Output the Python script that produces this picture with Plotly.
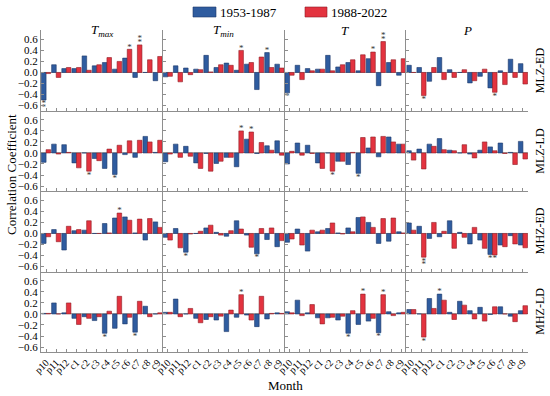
import plotly.graph_objects as go
from plotly.subplots import make_subplots

MONTHS = ["p10", "p11", "p12", "c1", "c2", "c3", "c4", "c5", "c6", "c7", "c8", "c9"]
ROWS = ["MLZ-ED", "MLZ-LD", "MHZ-ED", "MHZ-LD"]
COLS = ["Tmax", "Tmin", "T", "P"]
COL_TITLES = ["<i>T</i><sub><i>max</i></sub>", "<i>T</i><sub><i>min</i></sub>", "<i>T</i>", "<i>P</i>"]
SERIES = ["1953-1987", "1988-2022"]
Y_TICKS = [-0.6, -0.4, -0.2, 0.0, 0.2, 0.4, 0.6]
Y_TICK_TEXT = ["\u22120.6", "\u22120.4", "\u22120.2", "0.0", "0.2", "0.4", "0.6"]

# ---- MLZ-ED ----
MLZ_ED_Tmax_1 = [-0.50, 0.14, 0.07, 0.07, 0.30, 0.12, 0.18, 0.06, 0.26, -0.09, 0.00, -0.15]
MLZ_ED_Tmax_2 = [-0.02, -0.09, 0.09, 0.09, 0.04, 0.14, 0.27, 0.20, 0.42, 0.50, 0.23, 0.29]
MLZ_ED_Tmin_1 = [-0.08, 0.12, 0.08, 0.06, 0.31, 0.09, 0.17, 0.04, 0.15, -0.31, 0.36, 0.15]
MLZ_ED_Tmin_2 = [-0.07, -0.17, -0.04, 0.05, 0.01, 0.14, 0.13, 0.40, 0.18, 0.28, 0.09, 0.08]
MLZ_ED_T_1 = [-0.37, 0.13, 0.07, 0.06, 0.31, 0.10, 0.18, 0.03, 0.25, -0.24, 0.18, -0.05]
MLZ_ED_T_2 = [-0.05, -0.13, 0.03, 0.06, 0.03, 0.14, 0.23, 0.32, 0.37, 0.56, 0.23, 0.25]
MLZ_ED_P_1 = [0.13, 0.09, -0.16, 0.27, 0.05, 0.00, -0.19, -0.07, -0.28, 0.03, 0.24, 0.16]
MLZ_ED_P_2 = [0.00, -0.42, 0.09, -0.13, -0.09, 0.05, -0.15, 0.06, -0.36, -0.22, -0.09, -0.21]
# ---- MLZ-LD ----
MLZ_LD_Tmax_1 = [-0.17, 0.16, 0.15, -0.18, 0.00, -0.10, -0.28, -0.39, -0.03, -0.08, 0.30, 0.01]
MLZ_LD_Tmax_2 = [0.06, -0.02, 0.01, -0.27, -0.33, -0.14, 0.07, 0.14, 0.22, 0.23, 0.20, 0.23]
MLZ_LD_Tmin_1 = [-0.16, 0.16, 0.12, -0.18, -0.01, -0.19, -0.08, -0.25, 0.25, -0.01, 0.13, 0.22]
MLZ_LD_Tmin_2 = [-0.02, -0.08, -0.06, -0.28, -0.33, -0.15, -0.08, 0.40, 0.38, 0.19, 0.05, -0.04]
MLZ_LD_T_1 = [-0.20, 0.18, 0.14, -0.18, 0.00, -0.15, -0.21, -0.37, 0.09, -0.07, 0.29, 0.16]
MLZ_LD_T_2 = [0.03, -0.04, -0.01, -0.28, -0.33, -0.15, 0.01, 0.28, 0.29, 0.30, 0.20, 0.16]
MLZ_LD_P_1 = [0.04, 0.07, 0.16, 0.26, 0.05, 0.00, -0.02, 0.05, 0.11, 0.18, 0.01, 0.21]
MLZ_LD_P_2 = [-0.13, -0.29, 0.12, 0.06, 0.04, 0.15, -0.09, 0.20, 0.04, -0.01, -0.21, -0.11]
# ---- MHZ-ED ----
MHZ_ED_Tmax_1 = [-0.18, 0.07, -0.30, 0.05, 0.06, 0.00, 0.18, 0.28, 0.30, 0.01, -0.12, 0.21]
MHZ_ED_Tmax_2 = [-0.06, -0.15, 0.13, 0.07, 0.23, 0.00, 0.01, 0.37, 0.24, 0.26, 0.27, 0.11]
MHZ_ED_Tmin_1 = [-0.07, 0.09, -0.34, 0.00, 0.10, 0.02, -0.05, 0.23, -0.03, -0.37, -0.11, -0.24]
MHZ_ED_Tmin_2 = [-0.12, -0.26, -0.01, 0.04, 0.15, -0.03, 0.05, 0.08, -0.25, 0.09, 0.10, -0.13]
MHZ_ED_T_1 = [-0.16, 0.08, -0.32, 0.03, 0.09, 0.01, 0.10, 0.29, 0.20, -0.18, -0.14, 0.03]
MHZ_ED_T_2 = [-0.10, -0.21, 0.06, 0.06, 0.19, -0.01, 0.03, 0.30, 0.11, 0.27, 0.28, 0.01]
MHZ_ED_P_1 = [0.19, 0.13, -0.09, -0.06, 0.23, 0.02, -0.19, -0.12, -0.38, -0.21, -0.04, -0.21]
MHZ_ED_P_2 = [0.06, -0.43, 0.20, 0.04, -0.27, -0.07, 0.11, -0.27, -0.39, -0.24, -0.19, -0.26]
# ---- MHZ-LD ----
MHZ_LD_Tmax_1 = [0.01, 0.20, 0.02, -0.08, -0.05, -0.12, -0.35, -0.26, -0.18, -0.33, 0.14, 0.00]
MHZ_LD_Tmax_2 = [0.01, 0.00, 0.20, -0.19, -0.08, -0.05, 0.05, 0.32, -0.06, 0.23, -0.05, 0.02]
MHZ_LD_Tmin_1 = [0.03, 0.27, 0.00, -0.08, -0.10, -0.11, -0.32, -0.06, -0.02, -0.23, -0.09, 0.02]
MHZ_LD_Tmin_2 = [0.03, -0.05, 0.10, -0.16, -0.05, -0.04, 0.07, 0.35, -0.11, 0.32, 0.01, 0.01]
MHZ_LD_T_1 = [0.04, 0.25, 0.02, -0.07, -0.07, -0.11, -0.35, -0.19, -0.13, -0.34, 0.04, 0.02]
MHZ_LD_T_2 = [0.02, -0.03, 0.17, -0.18, -0.06, -0.04, 0.06, 0.36, -0.08, 0.35, -0.03, 0.03]
MHZ_LD_P_1 = [0.08, 0.00, 0.28, 0.36, 0.03, 0.23, 0.06, 0.12, -0.01, 0.13, -0.04, 0.06]
MHZ_LD_P_2 = [0.08, -0.42, 0.10, 0.25, -0.10, 0.16, -0.09, -0.13, 0.13, 0.00, -0.14, 0.15]

# significance marks: (month, series 1/2, number of stars)
SIG_MLZ_ED_Tmax = [("p10", 1, 2), ("c6", 2, 1), ("c7", 2, 2)]
SIG_MLZ_ED_Tmin = [("c5", 2, 1), ("c8", 1, 1)]
SIG_MLZ_ED_T = [("p10", 1, 1), ("c6", 2, 1), ("c7", 2, 2)]
SIG_MLZ_ED_P = [("p11", 2, 1), ("c6", 2, 1)]
SIG_MLZ_LD_Tmax = [("c2", 2, 1), ("c5", 1, 1)]
SIG_MLZ_LD_Tmin = [("c5", 2, 1), ("c6", 2, 1)]
SIG_MLZ_LD_T = [("c2", 2, 1), ("c5", 1, 1)]
SIG_MLZ_LD_P = []
SIG_MHZ_ED_Tmax = [("c5", 2, 1)]
SIG_MHZ_ED_Tmin = [("p12", 1, 1), ("c7", 1, 1)]
SIG_MHZ_ED_T = []
SIG_MHZ_ED_P = [("p11", 2, 2), ("c6", 1, 1), ("c6", 2, 1)]
SIG_MHZ_LD_Tmax = [("c4", 1, 1), ("c7", 1, 1)]
SIG_MHZ_LD_Tmin = [("c5", 2, 1)]
SIG_MHZ_LD_T = [("c4", 1, 1), ("c5", 2, 1), ("c7", 1, 1), ("c7", 2, 1)]
SIG_MHZ_LD_P = [("p11", 2, 1), ("c1", 1, 1)]

BLUE, BLUE_EDGE = "#2f5c9f", "#1c3768"
RED, RED_EDGE = "#e3333f", "#8e1d25"
GRID = "#8e8e8e"
FONT = "Liberation Serif"

g = globals()
fig = make_subplots(rows=4, cols=4, horizontal_spacing=0, vertical_spacing=0)

for r, rname in enumerate(ROWS):
    key = rname.replace("-", "_")
    for c, cname in enumerate(COLS):
        early = g[f"{key}_{cname}_1"]
        late = g[f"{key}_{cname}_2"]
        sig = g[f"SIG_{key}_{cname}"]
        xs = list(range(len(MONTHS)))
        fig.add_trace(go.Bar(x=xs, y=early, name=SERIES[0], showlegend=False,
                             marker=dict(color=BLUE, line=dict(color=BLUE_EDGE, width=0.6))),
                      row=r + 1, col=c + 1)
        fig.add_trace(go.Bar(x=xs, y=late, name=SERIES[1], showlegend=False,
                             marker=dict(color=RED, line=dict(color=RED_EDGE, width=0.6))),
                      row=r + 1, col=c + 1)
        sx, sy = [], []
        for m, s, n in sig:
            i = MONTHS.index(m)
            v = (early if s == 1 else late)[i]
            off = -0.225 if s == 1 else 0.225
            for j in range(n):
                sx.append(i + off)
                if v >= 0:
                    sy.append(v + 0.035 + 0.07 * j)
                else:
                    sy.append(v - 0.075 - 0.07 * j)
        if sx:
            fig.add_trace(go.Scatter(x=sx, y=sy, mode="text", text=["*"] * len(sx),
                                     textposition="middle center", showlegend=False,
                                     textfont=dict(family=FONT, size=9, color="#333333"),
                                     hoverinfo="skip"),
                          row=r + 1, col=c + 1)

fig.update_xaxes(range=[-0.5, 11.5], tickvals=list(range(12)), ticktext=MONTHS,
                 showline=True, linecolor=GRID, linewidth=1, ticks="inside", ticklen=3,
                 tickcolor=GRID, showgrid=False, zeroline=False, tickangle=-45,
                 tickfont=dict(family=FONT, size=10, color="black"), showticklabels=False)
for c in range(4):
    fig.update_xaxes(showticklabels=True, row=4, col=c + 1)
fig.update_yaxes(range=[-0.69, 0.77], tickvals=Y_TICKS, ticktext=Y_TICK_TEXT,
                 showline=True, linecolor=GRID, linewidth=1, ticks="inside", ticklen=3,
                 tickcolor=GRID, showgrid=False, zeroline=True, zerolinecolor="#b0b0b0",
                 zerolinewidth=1, tickfont=dict(family=FONT, size=11, color="black"),
                 showticklabels=False)
for r in range(4):
    fig.update_yaxes(showticklabels=True, row=r + 1, col=1)

ML, MR, MT, MB = 41, 22, 30, 44
W, H = 550, 396
PW, PH = W - ML - MR, H - MT - MB


def px_x(p):
    return (p - ML) / PW


def px_y(p):
    return (H - MB - p) / PH


annotations = []
for c in range(4):
    annotations.append(dict(x=(c + 0.5) / 4, y=px_y(31), xref="paper", yref="paper",
                            text=COL_TITLES[c], showarrow=False, xanchor="center",
                            yanchor="middle", font=dict(family=FONT, size=13, color="black")))
for r in range(4):
    annotations.append(dict(x=px_x(540), y=1 - (r + 0.5) / 4, xref="paper", yref="paper",
                            text=ROWS[r], showarrow=False, textangle=-90, xanchor="center",
                            yanchor="middle",
                            font=dict(family=FONT, size=12, color="black")))
annotations.append(dict(x=px_x(11), y=px_y(175), xref="paper", yref="paper",
                        text="Correlation Coefficient", showarrow=False, textangle=-90,
                        xanchor="center", yanchor="middle",
                        font=dict(family=FONT, size=13, color="black")))
annotations.append(dict(x=px_x(285), y=px_y(385), xref="paper", yref="paper",
                        text="Month", showarrow=False, xanchor="center", yanchor="middle",
                        font=dict(family=FONT, size=13, color="black")))

# legend drawn manually
shapes = []
leg = [(193, 216, BLUE, BLUE_EDGE, SERIES[0]), (305, 327, RED, RED_EDGE, SERIES[1])]
for x0, x1, col, edge, label in leg:
    shapes.append(dict(type="rect", xref="paper", yref="paper", x0=px_x(x0), x1=px_x(x1),
                       y0=px_y(17), y1=px_y(7), fillcolor=col, line=dict(color=edge, width=0.6)))
    annotations.append(dict(x=px_x(x1 + 2), y=px_y(12), xref="paper", yref="paper",
                            text=label, showarrow=False, xanchor="left", yanchor="middle",
                            font=dict(family=FONT, size=13, color="black")))

fig.update_layout(width=W, height=H, margin=dict(l=ML, r=MR, t=MT, b=MB),
                  barmode="group", bargap=0.1, bargroupgap=0,
                  plot_bgcolor="white", paper_bgcolor="white",
                  annotations=annotations, shapes=shapes, showlegend=False)

fig.write_html("out.html", config={"displayModeBar": False},
               post_script="document.body.style.margin='0';document.body.style.padding='0';"
                           "document.body.style.overflow='hidden';")
